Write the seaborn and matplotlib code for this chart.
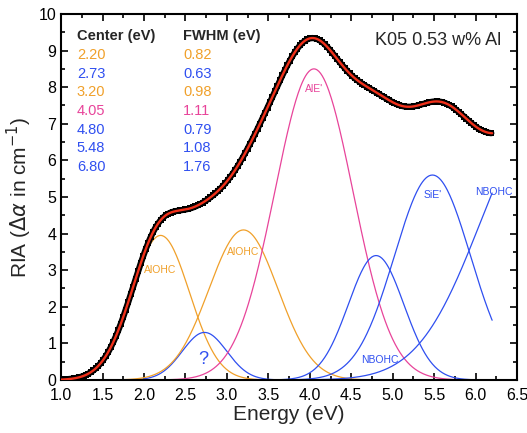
import numpy as np
import pandas as pd
import matplotlib.pyplot as plt
from matplotlib.ticker import MultipleLocator
import seaborn as sns

# Gaussian bands (center, FWHM as printed; amplitude estimated)
band_names = ["AlOHC", "?", "AlOHC", "AlE'", "NBOHC", "SiE'", "NBOHC"]
centers = [2.20, 2.73, 3.20, 4.05, 4.80, 5.48, 6.80]
fwhms = [0.82, 0.63, 0.98, 1.11, 0.79, 1.08, 1.76]
amplitudes = [3.95, 1.30, 4.10, 8.50, 3.40, 5.60, 7.05]
band_colors = ["#f0a02a", "#2f4ff0", "#f0a02a", "#e8449a", "#2f4ff0", "#2f4ff0", "#2f4ff0"]

# label positions for the band names
label_x = [2.20, 2.72, 3.20, 4.05, 4.85, 5.48, 6.22]
label_y = [3.00, 0.55, 3.50, 7.95, 0.55, 5.05, 5.15]

e_min, e_max = 1.0, 6.2

sns.set_theme(style="ticks")
plt.rcParams['font.family'] = ['Liberation Sans', 'DejaVu Sans']
plt.rcParams['mathtext.fontset'] = 'dejavusans'

energy = np.arange(e_min, e_max + 1e-9, 0.01)


def gauss(x, c, w, a):
    s = w / (2 * np.sqrt(2 * np.log(2)))
    return a * np.exp(-0.5 * ((x - c) / s) ** 2)


rows = []
for i, (c, w, a) in enumerate(zip(centers, fwhms, amplitudes)):
    for x, y in zip(energy, gauss(energy, c, w, a)):
        rows.append({"band": i, "energy": x, "ria": y})
bands_df = pd.DataFrame(rows)
fit_df = bands_df.groupby("energy", as_index=False)["ria"].sum()
meas_df = fit_df.iloc[::3]

fig = plt.figure(figsize=(5.27, 4.33), dpi=100)
ax = fig.add_axes([0.116, 0.1224, 0.865, 0.8453])

for i in range(len(centers)):
    sns.lineplot(data=bands_df[bands_df["band"] == i], x="energy", y="ria",
                 color=band_colors[i], lw=0.9, ax=ax, zorder=2)

sns.lineplot(data=meas_df, x="energy", y="ria", color="black", lw=4.5,
             marker="s", markersize=5, markeredgewidth=0, ax=ax, zorder=3)
sns.lineplot(data=fit_df, x="energy", y="ria", color="#f0301a", lw=1.7, ax=ax, zorder=4)

for name, x, y, col in zip(band_names, label_x, label_y, band_colors):
    if name == "?":
        ax.text(x, y, name, color=col, fontsize=13, ha="center", va="center")
    else:
        ax.text(x, y, name, color=col, fontsize=7.5, ha="center", va="center")

# parameter table
ax.text(1.19, 9.4, "Center (eV)", fontsize=10.5, fontweight="bold", va="center")
ax.text(2.47, 9.4, "FWHM (eV)", fontsize=10.5, fontweight="bold", va="center")
for k, (c, w, col) in enumerate(zip(centers, fwhms, band_colors)):
    yy = 8.88 - 0.51 * k
    ax.text(1.19, yy, f"{c:.2f}", color=col, fontsize=10.5, va="center")
    ax.text(2.47, yy, f"{w:.2f}", color=col, fontsize=10.5, va="center")

ax.text(6.31, 9.27, "K05 0.53 w% Al", fontsize=13, ha="right", va="center")

ax.set_xlim(1.0, 6.5)
ax.set_ylim(0, 10)
ax.xaxis.set_major_locator(MultipleLocator(0.5))
ax.xaxis.set_minor_locator(MultipleLocator(0.25))
ax.yaxis.set_major_locator(MultipleLocator(1))
ax.yaxis.set_minor_locator(MultipleLocator(0.5))
ax.tick_params(which="both", direction="in", top=True, right=True, width=1.2,
               labelsize=11.5, colors="black")
ax.tick_params(axis="x", which="major", pad=6)
ax.tick_params(which="major", length=5)
ax.tick_params(which="minor", length=3)
for sp in ax.spines.values():
    sp.set_linewidth(1.5)
    sp.set_color("black")

ax.set_xlabel("Energy (eV)", fontsize=15, labelpad=1)
ax.set_ylabel(r"RIA ($\Delta\alpha$ in cm$^{-1}$)", fontsize=15, labelpad=3)

fig.savefig("out.png", dpi=100)
